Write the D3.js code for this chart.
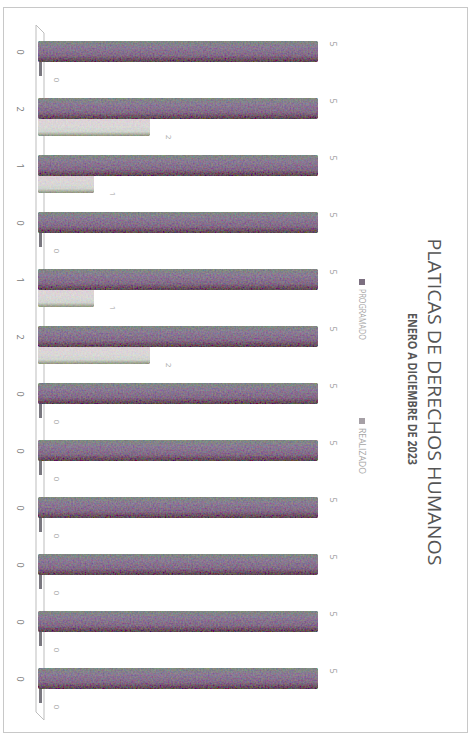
<!DOCTYPE html>
<html>
<head>
<meta charset="utf-8">
<script src="https://cdn.jsdelivr.net/npm/d3@7"></script>
<style>
  html, body { margin: 0; padding: 0; background: #fff; }
  svg { display: block; }
</style>
</head>
<body>
<svg id="chart" width="473" height="736"></svg>
<script>
// ---- data ----
const categories = ["0", "2", "1", "0", "1", "2", "0", "0", "0", "0", "0", "0"];
const programado = [5, 5, 5, 5, 5, 5, 5, 5, 5, 5, 5, 5];
const realizado  = [0, 2, 1, 0, 1, 2, 0, 0, 0, 0, 0, 0];
const seriesNames = ["PROGRAMADO", "REALIZADO"];
const titleText = "PLATICAS DE DERECHOS HUMANOS";
const subtitleText = "ENERO A DICIEMBRE DE 2023";

const svg = d3.select("#chart");

// defs: gradients + grain filter
const defs = svg.append("defs");
const gP = defs.append("linearGradient").attr("id", "gProg").attr("x1", 0).attr("y1", 0).attr("x2", 0).attr("y2", 1);
[["0%", "#7f8a82"], ["30%", "#8a7a94"], ["70%", "#826a86"], ["88%", "#6d5064"], ["100%", "#5a4c52"]].forEach(([o, c]) =>
  gP.append("stop").attr("offset", o).attr("stop-color", c));
const gR = defs.append("linearGradient").attr("id", "gReal").attr("x1", 0).attr("y1", 0).attr("x2", 0).attr("y2", 1);
[["0%", "#e0cfd8"], ["55%", "#d9d7d6"], ["80%", "#d0d4cf"], ["100%", "#8e927c"]].forEach(([o, c]) =>
  gR.append("stop").attr("offset", o).attr("stop-color", c));

const f = defs.append("filter").attr("id", "grain").attr("x", 0).attr("y", 0).attr("width", 1).attr("height", 1);
f.append("feTurbulence").attr("type", "fractalNoise").attr("baseFrequency", 0.6).attr("numOctaves", 2).attr("seed", 5).attr("result", "n");
f.append("feColorMatrix").attr("in", "n").attr("type", "matrix")
  .attr("values", "1.3 -0.15 -0.15 0 0  -0.15 1.3 -0.15 0 0  -0.15 -0.15 1.3 0 0  0 0 0 0 1").attr("result", "cn");
f.append("feComposite").attr("in", "SourceGraphic").attr("in2", "cn").attr("operator", "arithmetic")
  .attr("k1", 0).attr("k2", 1).attr("k3", 0.22).attr("k4", -0.11);

// border
svg.append("rect").attr("x", 3.5).attr("y", 7.5).attr("width", 464).attr("height", 725)
  .attr("fill", "none").attr("stroke", "#c8c8c8").attr("stroke-width", 1);

// scales
const x = d3.scaleLinear().domain([0, 5]).range([38, 318]);
const y = d3.scaleBand().domain(d3.range(categories.length)).range([33, 717]).padding(0);

// 3D floor/wall lines
const x0 = x(0);
svg.append("path")
  .attr("d", `M${x0 - 2},25 L${x0 - 2},712 L${x0 + 6},720 L${x0 + 6},33 Z`)
  .attr("fill", "none").attr("stroke", "#bdbdbd").attr("stroke-width", 1);

const g = svg.append("g");
const realData = realizado.map((v, i) => ({ v, i }));
const progData = programado.map((v, i) => ({ v, i }));

// REALIZADO bars (drawn first, behind)
g.selectAll("rect.real").data(realData.filter(d => d.v > 0)).join("rect").attr("class", "real")
  .attr("x", x(0)).attr("y", d => y(d.i) + 25)
  .attr("width", d => x(d.v) - x(0)).attr("height", 21).attr("rx", 2)
  .attr("fill", "url(#gReal)").attr("filter", "url(#grain)");
g.selectAll("rect.real0").data(realData.filter(d => d.v === 0)).join("rect").attr("class", "real0")
  .attr("x", x(0) + 1).attr("y", d => y(d.i) + 27)
  .attr("width", d => x(d.v) - x(0) + 3).attr("height", 16)
  .attr("fill", "#7a7880");

// PROGRAMADO bars
g.selectAll("rect.prog").data(progData).join("rect").attr("class", "prog")
  .attr("x", x(0)).attr("y", d => y(d.i) + 8)
  .attr("width", d => x(d.v) - x(0)).attr("height", 21).attr("rx", 2)
  .attr("fill", "url(#gProg)").attr("filter", "url(#grain)");

// rotated text helper
function rtext(px, py, txt, opts) {
  const t = svg.append("text")
    .attr("transform", `translate(${px},${py}) rotate(90)`)
    .attr("text-anchor", opts.anchor || "middle")
    .attr("font-family", opts.family || "'Open Sans', 'Liberation Sans', sans-serif")
    .attr("font-size", opts.size)
    .attr("font-weight", opts.weight || "normal")
    .attr("fill", opts.fill)
    .text(txt);
  if (opts.len) t.attr("textLength", opts.len).attr("lengthAdjust", "spacingAndGlyphs");
  return t;
}

// category labels
categories.forEach((c, i) => rtext(17, y(i) + 19, c, { size: 9, fill: "#777" }));

// value labels
programado.forEach((v, i) => rtext(x(v) + 12, y(i) + 11, String(v), { size: 9, fill: "#999" }));
realizado.forEach((v, i) => rtext(x(v) + 16, y(i) + 47, String(v), { size: 8, fill: "#a5a5a5" }));

// title + subtitle
rtext(428, 402, titleText, { size: 19, weight: 500, fill: "#555", len: 327 });
rtext(408, 389, subtitleText, { size: 11.5, weight: "bold", fill: "#555", len: 152 });

// legend
const legendStarts = [279, 418];
const legendColors = ["#7c6f80", "#a6a0a6"];
seriesNames.forEach((s, i) => {
  svg.append("rect").attr("x", 359).attr("y", legendStarts[i]).attr("width", 6).attr("height", 6)
    .attr("fill", legendColors[i]);
  rtext(359, legendStarts[i] + 10, s, { size: 8.5, fill: "#a5a5a5", anchor: "start", len: s.length * 5.1 });
});
</script>
</body>
</html>
